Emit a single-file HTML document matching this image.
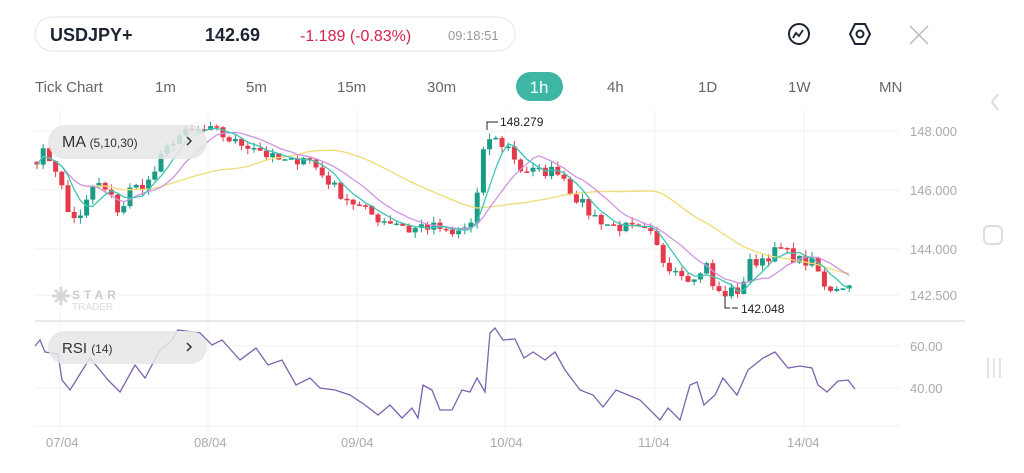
<!DOCTYPE html><html><head><meta charset="utf-8"><style>
body{margin:0;width:1024px;height:473px;background:#fff;overflow:hidden;font-family:"Liberation Sans",sans-serif}
svg{position:absolute;left:0;top:0}
</style></head><body>
<svg id="s" width="1024" height="473" xmlns="http://www.w3.org/2000/svg">
<rect x="35" y="17" width="480" height="34" rx="17" fill="#fff" stroke="#e6e6e6"/>
<text x="50" y="41" font-size="18" font-weight="bold" fill="#1c2333">USDJPY+</text>
<text x="205" y="41" font-size="18" font-weight="bold" fill="#1c2333">142.69</text>
<text x="300" y="41" font-size="16" fill="#d8234a">-1.189 (-0.83%)</text>
<text x="448" y="40" font-size="13" fill="#999">09:18:51</text>
<circle cx="799" cy="34" r="10" fill="none" stroke="#1c2333" stroke-width="2"/>
<path d="M793 38 l3-5 3 3 4-6" fill="none" stroke="#1c2333" stroke-width="1.8"/>
<path d="M855 24 h10 l5 10 -5 10 h-10 l-5-10z" fill="none" stroke="#1c2333" stroke-width="2"/>
<circle cx="860" cy="34" r="3.5" fill="none" stroke="#1c2333" stroke-width="2"/>
<path d="M910 26 l18 18 M928 26 l-18 18" stroke="#bbb" stroke-width="1.5"/>
<g font-size="15" fill="#666">
<text x="35" y="92">Tick Chart</text><text x="155" y="92">1m</text><text x="246" y="92">5m</text><text x="337" y="92">15m</text><text x="427" y="92">30m</text>
<rect x="516" y="72" width="47" height="29" rx="14.5" fill="#3db6a6"/><text x="539" y="93" text-anchor="middle" fill="#fff" font-size="17">1h</text>
<text x="607" y="92">4h</text><text x="698" y="92">1D</text><text x="788" y="92">1W</text><text x="879" y="92">MN</text></g>
<path d="M998 94 l-6 8 6 8" fill="none" stroke="#ddd" stroke-width="2"/>
<rect x="984" y="226" width="18" height="18" rx="5" fill="none" stroke="#ddd" stroke-width="2"/>
<path d="M988 358 v20 M994 358 v20 M1000 358 v20" stroke="#e4e4e4" stroke-width="2"/>
<g stroke="#f0f0f0" stroke-width="1" id="grid"></g>
<line x1="35" y1="321" x2="965" y2="321" stroke="#e2e2e2" stroke-width="1.5"/>
<g font-size="13" fill="#aaa">
<text x="910" y="136">148.000</text><text x="910" y="195">146.000</text><text x="910" y="254">144.000</text><text x="910" y="300">142.500</text>
<text x="910" y="351">60.00</text><text x="910" y="393">40.00</text>
<text x="46" y="447">07/04</text><text x="194" y="447">08/04</text><text x="341" y="447">09/04</text><text x="490" y="447">10/04</text><text x="638" y="447">11/04</text><text x="787" y="447">14/04</text></g>
<g id="c"></g>
<g font-size="12" fill="#222"><path d="M487 130 v-8 h5 M492 122 h6" stroke="#222" fill="none"/><text x="500" y="126">148.279</text>
<path d="M725 296 v12 h5 M732 308 h6" stroke="#222" fill="none"/><text x="741" y="313">142.048</text></g>
<g opacity="0.55"><path d="M55 290 l12 12 M67 290 l-12 12 M61 287 v18 M52 296 h18" stroke="#bbb" stroke-width="3"/></g>
<text x="72" y="299" font-size="12" fill="#ccc" font-weight="bold" letter-spacing="4">STAR</text>
<text x="72" y="310" font-size="10" fill="#ddd">TRADER</text>
<rect x="48" y="125" width="159" height="34" rx="17" fill="#e6e6e8" opacity="0.85"/>
<text x="62" y="147" font-size="16" fill="#333">MA <tspan font-size="12">(5,10,30)</tspan></text>
<path d="M187 137 l4 4 -4 4" fill="none" stroke="#333" stroke-width="1.5"/>
<rect x="48" y="331" width="159" height="33" rx="16.5" fill="#e6e6e8" opacity="0.85"/>
<text x="62" y="353" font-size="15" fill="#333">RSI <tspan font-size="12">(14)</tspan></text>
<path d="M187 343 l4 4 -4 4" fill="none" stroke="#333" stroke-width="1.5"/>
</svg>
<script>
var NS="http://www.w3.org/2000/svg",g=document.getElementById('c'),gr=document.getElementById('grid');
function el(p,t,a){var e=document.createElementNS(NS,t);for(var k in a)e.setAttribute(k,a[k]);p.appendChild(e);return e}
[131,190,249,295,346,388,426].forEach(function(y){el(gr,'line',{x1:35,x2:900,y1:y,y2:y})});
[60,208,357,505,655,804].forEach(function(x){el(gr,'line',{x1:x,x2:x,y1:110,y2:430})});
var W=[[35,147.0],[45,147.3],[60,146.5],[65,145.3],[80,145.0],[95,146.3],[110,145.8],[120,145.2],[130,146.0],[150,146.3],[160,147.0],[175,147.8],[195,148.0],[215,148.0],[235,147.6],[255,147.5],[270,147.1],[290,146.9],[305,147.2],[320,146.6],[340,145.9],[360,145.4],[380,145.0],[400,144.9],[410,144.6],[420,144.8],[440,144.7],[450,144.4],[460,144.6],[475,145.0],[480,146.9],[490,147.8],[500,147.6],[510,147.4],[520,146.7],[540,146.6],[560,146.7],[570,146.0],[590,145.2],[610,144.8],[630,144.7],[650,144.5],[665,143.5],[680,143.3],[695,142.9],[705,143.6],[715,142.5],[725,142.5],[740,142.6],[750,143.5],[770,143.8],[780,144.0],[800,143.6],[815,143.5],[825,142.6],[840,142.8],[855,142.7]];
function interp(x){for(var i=1;i<W.length;i++)if(x<=W[i][0]){var a=W[i-1],b=W[i];return a[1]+(b[1]-a[1])*(x-a[0])/(b[0]-a[0])}return W[W.length-1][1]}
var seed=7;function rnd(){seed=(seed*16807)%2147483647;return seed/2147483647}
function Y(p){return 131+(148-p)*29.5}
var xs=[],cl=[];for(var x=37;x<=855;x+=6.2){xs.push(x);cl.push(interp(x)+(rnd()-0.5)*0.4)}
var prev=cl[0]+0.1;
for(var i=0;i<cl.length;i++){var o=prev,c=cl[i],hi=Math.max(o,c)+rnd()*0.2,lo=Math.min(o,c)-rnd()*0.2,col=c>=o?'#1b9c87':'#e53a4b';
el(g,'line',{x1:xs[i],x2:xs[i],y1:Y(hi),y2:Y(lo),stroke:col,'stroke-width':1});
var t=Y(Math.max(o,c)),h=Math.max(1.5,Math.abs(Y(o)-Y(c)));el(g,'rect',{x:xs[i]-2.5,y:t,width:5,height:h,fill:col});prev=c}
function ma(n,col){var d='';for(var i=0;i<cl.length;i++){var s=0,k=0;for(var j=Math.max(0,i-n+1);j<=i;j++){s+=cl[j];k++}d+=(i?'L':'M')+xs[i].toFixed(1)+' '+Y(s/k).toFixed(1)}el(g,'path',{d:d,fill:'none',stroke:col,'stroke-width':1.3})}
ma(30,'#efdc74');ma(10,'#cf95e3');ma(5,'#3cc6b3');
var R=[[35,346],[40,340],[45,352],[58,354],[62,380],[70,390],[90,358],[108,380],[120,392],[135,365],[145,378],[160,350],[172,340],[178,330],[200,333],[212,345],[222,340],[240,360],[256,348],[268,365],[282,360],[296,385],[310,378],[320,388],[335,390],[350,395],[365,405],[378,415],[390,405],[402,418],[412,408],[418,418],[423,385],[432,390],[440,410],[452,410],[462,390],[470,392],[477,378],[485,392],[490,333],[495,328],[503,340],[515,339],[524,358],[533,352],[545,360],[555,352],[565,370],[580,390],[593,395],[603,407],[616,390],[628,395],[640,400],[660,420],[668,408],[680,420],[690,385],[697,382],[704,405],[715,395],[723,378],[737,395],[748,370],[763,358],[775,352],[788,368],[800,366],[812,368],[818,385],[827,392],[838,381],[848,380],[855,389]];
el(g,'path',{d:R.map(function(p,i){return(i?'L':'M')+p[0]+' '+p[1]}).join(''),fill:'none',stroke:'#7b63ad','stroke-width':1.3});
</script>
</body></html>
